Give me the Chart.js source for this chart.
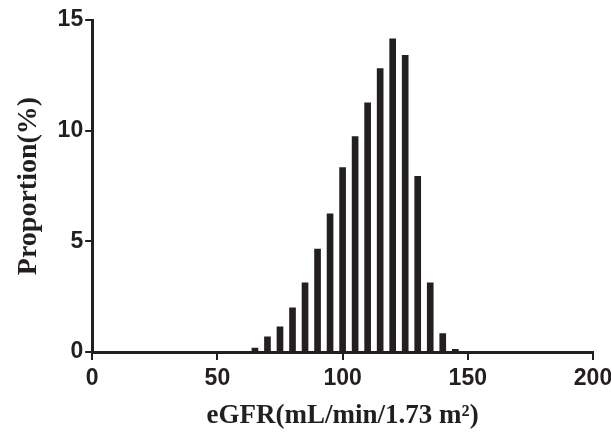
<!DOCTYPE html>
<html>
<head>
<meta charset="utf-8">
<script src="https://cdn.jsdelivr.net/npm/chart.js@4"></script>
<style>
  html, body { margin: 0; padding: 0; background: #fff; }
</style>
</head>
<body>
<canvas id="myChart" width="611" height="439"></canvas>
<script>
// eGFR bins (mL/min/1.73 m2) and proportion of subjects (%)
const egfrBins = [65, 70, 75, 80, 85, 90, 95, 100, 105, 110, 115, 120, 125, 130, 135, 140, 145];
const proportion = [0.18, 0.68, 1.14, 2.0, 3.12, 4.65, 6.24, 8.33, 9.73, 11.26, 12.8, 14.15, 13.4, 7.94, 3.12, 0.83, 0.12];
const xTicks = [0, 50, 100, 150, 200];
const yTicks = [0, 5, 10, 15];

const ink = '#231f20';

new Chart(document.getElementById("myChart"), {
  type: 'bar',
  data: {
    datasets: [{
      data: egfrBins.map((b, i) => ({ x: b, y: proportion[i] })),
      backgroundColor: ink,
      barThickness: 6
    }]
  },
  options: {
    responsive: false,
    animation: false,
    layout: { padding: { top: 20, right: 0, left: 8, bottom: 7 } },
    plugins: {
      legend: { display: false },
      tooltip: { enabled: false }
    },
    scales: {
      x: {
        type: 'linear',
        min: 0,
        max: 200,
        offset: false,
        afterBuildTicks: axis => { axis.ticks = xTicks.map(v => ({ value: v })); },
        afterFit: axis => { axis.paddingRight = 18; },
        border: { color: ink, width: 3 },
        grid: { offset: false, drawOnChartArea: false, drawTicks: true, tickLength: 8, color: ink, lineWidth: 2 },
        ticks: { color: ink, padding: 5, font: { family: 'Liberation Sans', size: 23, weight: 'bold' } },
        title: {
          display: true,
          text: 'eGFR(mL/min/1.73 m²)',
          color: ink,
          padding: { top: 2, bottom: 0 },
          font: { family: 'Liberation Serif', size: 27, weight: 'bold' }
        }
      },
      y: {
        min: 0,
        max: 15,
        afterBuildTicks: axis => { axis.ticks = yTicks.map(v => ({ value: v })); },
        border: { color: ink, width: 3 },
        grid: { drawOnChartArea: false, drawTicks: true, tickLength: 7, color: ink, lineWidth: 2 },
        ticks: { color: ink, padding: 2, font: { family: 'Liberation Sans', size: 23, weight: 'bold' } },
        title: {
          display: true,
          text: 'Proportion(%)',
          color: ink,
          padding: { bottom: 10 },
          font: { family: 'Liberation Serif', size: 28, weight: 'bold' }
        }
      }
    }
  }
});
</script>
</body>
</html>
